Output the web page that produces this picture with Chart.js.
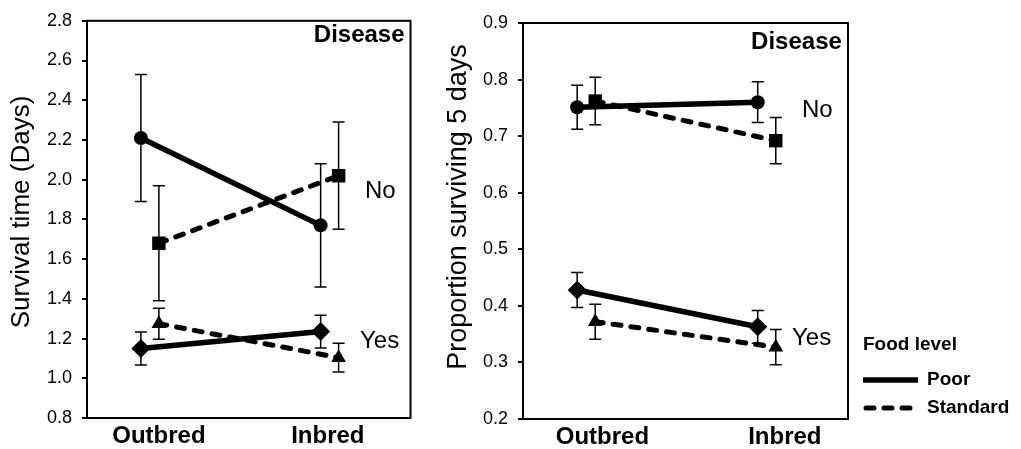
<!DOCTYPE html>
<html>
<head>
<meta charset="utf-8">
<script src="https://cdn.jsdelivr.net/npm/chart.js@4/dist/chart.umd.min.js"></script>
<style>
  body { margin: 0; background: #fff; }
  #wrap { position: relative; width: 1021px; height: 449px; background: #fff; }
  canvas { position: absolute; top: 0; }
  #survival { left: 0; }
  #proportion { left: 420px; }
</style>
</head>
<body>
<div id="wrap">
  <canvas id="survival" width="420" height="449"></canvas>
  <canvas id="proportion" width="601" height="449"></canvas>
</div>
<script>
// x groups; Standard food points sit a bit right of the Poor ones
const groups = ['Outbred', 'Inbred'];
const groupX = [1, 2];
const standardShift = 0.1;

// survival time (days): means and error bars
const survPoorNo = [2.21, 1.77];
const survPoorNoErr = [0.32, 0.31];
const survStdNo = [1.68, 2.02];
const survStdNoErr = [0.29, 0.27];
const survPoorYes = [1.15, 1.235];
const survPoorYesErr = [0.083, 0.083];
const survStdYes = [1.275, 1.104];
const survStdYesErr = [0.078, 0.073];

// proportion surviving 5 days
const propPoorNo = [0.751, 0.760];
const propPoorNoErr = [0.039, 0.036];
const propStdNo = [0.762, 0.692];
const propStdNoErr = [0.042, 0.041];
const propPoorYes = [0.428, 0.363];
const propPoorYesErr = [0.031, 0.029];
const propStdYes = [0.372, 0.327];
const propStdYesErr = [0.031, 0.031];

// tick labels
const survTicks = [0.8, 1.0, 1.2, 1.4, 1.6, 1.8, 2.0, 2.2, 2.4, 2.6, 2.8];
const propTicks = [0.2, 0.3, 0.4, 0.5, 0.6, 0.7, 0.8, 0.9];

const FONT = "'Liberation Sans', Arial, sans-serif";
Chart.defaults.font.family = FONT;
Chart.defaults.color = '#000';

function series(label, values, errs, shift, style, radius, dashed) {
    return {
        label: label,
        data: values.map(function (v, i) { return {x: groupX[i] + shift, y: v}; }),
        errors: errs,
        borderColor: '#000',
        backgroundColor: '#000',
        borderWidth: dashed ? 5 : 5.5,
        borderDash: dashed ? [8, 10] : [],
        borderCapStyle: dashed ? 'round' : 'butt',
        pointStyle: style,
        pointRadius: radius,
        pointHoverRadius: radius,
        pointBorderWidth: 0,
        pointBackgroundColor: '#000',
        tension: 0
    };
}

// vertical error bars with caps, drawn under the markers
const errorBars = {
    id: 'errorBars',
    beforeDatasetsDraw: function (chart) {
        const ctx = chart.ctx;
        const yScale = chart.scales.y;
        ctx.save();
        ctx.strokeStyle = '#000';
        ctx.lineWidth = 1.5;
        chart.data.datasets.forEach(function (ds, di) {
            chart.getDatasetMeta(di).data.forEach(function (pt, i) {
                const top = yScale.getPixelForValue(ds.data[i].y + ds.errors[i]);
                const bot = yScale.getPixelForValue(ds.data[i].y - ds.errors[i]);
                ctx.beginPath();
                ctx.moveTo(pt.x, top);
                ctx.lineTo(pt.x, bot);
                ctx.moveTo(pt.x - 6, top);
                ctx.lineTo(pt.x + 6, top);
                ctx.moveTo(pt.x - 6, bot);
                ctx.lineTo(pt.x + 6, bot);
                ctx.stroke();
            });
        });
        ctx.restore();
    }
};

// box round the plot, y title, text notes, legend
const frameNotes = {
    id: 'frameNotes',
    afterDraw: function (chart, args, opts) {
        const ctx = chart.ctx;
        const a = chart.chartArea;
        ctx.save();
        ctx.strokeStyle = '#000';
        ctx.lineWidth = 2;
        ctx.strokeRect(a.left, a.top, a.right - a.left, a.bottom - a.top);
        ctx.fillStyle = '#000';
        ctx.textBaseline = 'middle';

        // rotated y title
        ctx.save();
        ctx.translate(opts.titleX, opts.titleY);
        ctx.rotate(-Math.PI / 2);
        ctx.textAlign = 'center';
        ctx.font = opts.titleSize + 'px ' + FONT;
        ctx.fillText(opts.title, 0, 0);
        ctx.restore();

        (opts.notes || []).forEach(function (n) {
            ctx.font = (n.bold ? 'bold ' : '') + '24px ' + FONT;
            ctx.textAlign = n.align || 'left';
            ctx.fillText(n.text, chart.scales.x.getPixelForValue(n.x), chart.scales.y.getPixelForValue(n.y));
        });
        if (opts.legend) {
            const x0 = a.right + 15;
            ctx.textAlign = 'left';
            ctx.font = 'bold 19px ' + FONT;
            ctx.fillText('Food level', x0, 345);
            ctx.lineWidth = 5.5;
            ctx.beginPath();
            ctx.moveTo(x0, 380);
            ctx.lineTo(x0 + 55, 380);
            ctx.stroke();
            ctx.fillText('Poor', x0 + 64, 380);
            ctx.lineWidth = 5;
            ctx.lineCap = 'round';
            ctx.setLineDash([8, 10]);
            ctx.beginPath();
            ctx.moveTo(x0 + 3, 408);
            ctx.lineTo(x0 + 53, 408);
            ctx.stroke();
            ctx.setLineDash([]);
            ctx.fillText('Standard', x0 + 64, 408);
        }
        ctx.restore();
    }
};

function makeChart(id, sets, yTicks, yTitle, o) {
    return new Chart(document.getElementById(id), {
        type: 'line',
        data: {datasets: sets},
        options: {
            responsive: false,
            animation: false,
            events: [],
            layout: {padding: {top: o.top, right: o.right, left: 0, bottom: 0}},
            plugins: {
                legend: {display: false},
                tooltip: {enabled: false},
                frameNotes: {
                    notes: o.notes,
                    legend: o.legend,
                    title: yTitle,
                    titleSize: o.titleSize,
                    titleX: o.titleX,
                    titleY: o.titleY
                }
            },
            scales: {
                x: {
                    type: 'linear',
                    min: 0.7,
                    max: 2.5,
                    afterBuildTicks: function (s) {
                        s.ticks = o.labelX.map(function (v) { return {value: v}; });
                    },
                    afterFit: function (s) { s.height = o.xHeight; },
                    grid: {display: false, drawTicks: false},
                    border: {display: true, color: '#000', width: 2},
                    ticks: {
                        autoSkip: false,
                        maxRotation: 0,
                        padding: 4,
                        font: {size: 24, weight: 'bold'},
                        callback: function (v, i) { return groups[i]; }
                    }
                },
                y: {
                    type: 'linear',
                    min: yTicks[0],
                    max: yTicks[yTicks.length - 1],
                    afterBuildTicks: function (s) {
                        s.ticks = yTicks.map(function (v) { return {value: v}; });
                    },
                    afterFit: function (s) { s.width = o.yWidth; },
                    grid: {display: true, drawOnChartArea: false, drawTicks: true, tickLength: 5, color: '#000', lineWidth: 2},
                    border: {display: true, color: '#000', width: 2},
                    ticks: {
                        padding: 10,
                        font: {size: 18},
                        callback: function (v) { return v.toFixed(1); }
                    }
                }
            }
        },
        plugins: [errorBars, frameNotes]
    });
}

makeChart('survival', [
    series('Poor, No', survPoorNo, survPoorNoErr, 0, 'circle', 7, false),
    series('Standard, No', survStdNo, survStdNoErr, standardShift, 'rect', 9.5, true),
    series('Poor, Yes', survPoorYes, survPoorYesErr, 0, 'rectRot', 9.5, false),
    series('Standard, Yes', survStdYes, survStdYesErr, standardShift, 'triangle', 8.5, true)
], survTicks, 'Survival time (Days)', {
    top: 20, right: 6, xHeight: 31, yWidth: 87,
    titleSize: 26, titleX: 22, titleY: 212,
    labelX: [1.1, 2.04],
    notes: [
        {text: 'Disease', x: 2.467, y: 2.725, bold: true, align: 'right'},
        {text: 'No', x: 2.247, y: 1.94},
        {text: 'Yes', x: 2.219, y: 1.187}
    ]
});

makeChart('proportion', [
    series('Poor, No', propPoorNo, propPoorNoErr, 0, 'circle', 7, false),
    series('Standard, No', propStdNo, propStdNoErr, standardShift, 'rect', 9.5, true),
    series('Poor, Yes', propPoorYes, propPoorYesErr, 0, 'rectRot', 9.5, false),
    series('Standard, Yes', propStdYes, propStdYesErr, standardShift, 'triangle', 8.5, true)
], propTicks, 'Proportion surviving 5 days', {
    top: 23, right: 173, xHeight: 30, yWidth: 103,
    titleSize: 27, titleX: 39, titleY: 207,
    labelX: [1.14, 2.15],
    notes: [
        {text: 'Disease', x: 2.466, y: 0.866, bold: true, align: 'right'},
        {text: 'No', x: 2.245, y: 0.746},
        {text: 'Yes', x: 2.19, y: 0.343}
    ],
    legend: true
});
</script>
</body>
</html>
